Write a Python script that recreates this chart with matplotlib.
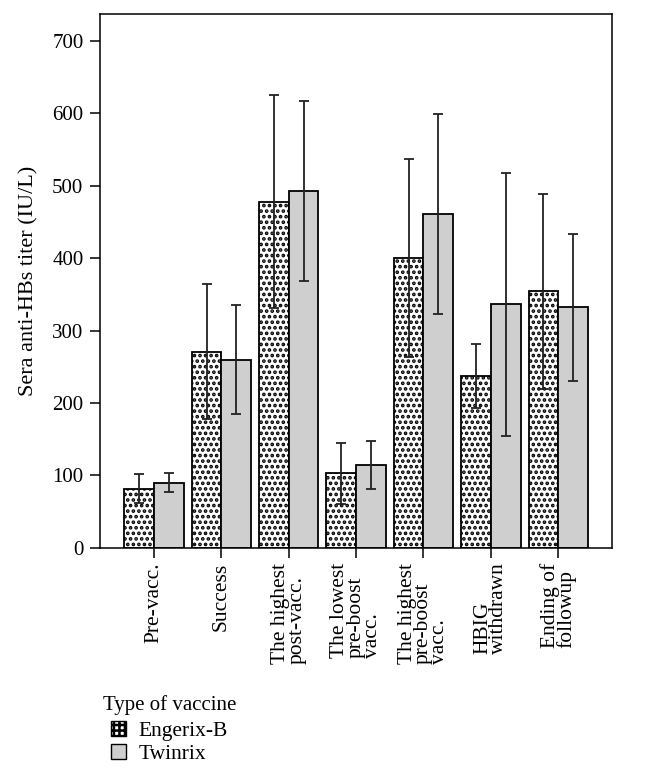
import numpy as np
import matplotlib
matplotlib.use('Agg')
import matplotlib.pyplot as plt
from matplotlib.patches import Patch

plt.rcParams['font.family'] = ['Liberation Serif', 'DejaVu Serif']
plt.rcParams['hatch.linewidth'] = 1.8

# data
stages = ['Pre-vacc.', 'Success', 'The highest\npost-vacc.', 'The lowest\npre-boost\nvacc.',
          'The highest\npre-boost\nvacc.', 'HBIG\nwithdrawn', 'Ending of\nfollowup']
engerix_mean = [82, 271, 478, 103, 400, 237, 354]
engerix_err = [20, 93, 147, 42, 137, 44, 134]
twinrix_mean = [90, 260, 493, 115, 461, 336, 332]
twinrix_err = [13, 75, 124, 33, 138, 182, 101]
yticks = [0, 100, 200, 300, 400, 500, 600, 700]

fig = plt.figure(figsize=(6.54, 7.75), dpi=100)
ax = fig.add_axes([0.153, 0.293, 0.783, 0.689])

x = np.arange(len(stages))
w = 0.44

ax.bar(x - w/2, engerix_mean, w, color='white', edgecolor='black', hatch='...', linewidth=1.3)
ax.bar(x + w/2, twinrix_mean, w, color='#cfcfcf', edgecolor='black', linewidth=1.3)
ax.errorbar(x - w/2, engerix_mean, yerr=engerix_err, fmt='none', ecolor='#222222',
            elinewidth=1.3, capsize=3.5, capthick=1.3)
ax.errorbar(x + w/2, twinrix_mean, yerr=twinrix_err, fmt='none', ecolor='#222222',
            elinewidth=1.3, capsize=3.5, capthick=1.3)

ax.set_xlim(-0.8, len(stages) - 0.2)
ax.set_ylim(0, 737)
ax.set_yticks(yticks)
ax.set_xticks(x)
ax.set_xticklabels(stages, rotation=90, multialignment='left', linespacing=0.8, fontsize=15.5)
ax.tick_params(axis='y', labelsize=15, length=7, width=1.1, direction='out', pad=5)
ax.tick_params(axis='x', length=7, width=1.1, direction='out')
for s in ax.spines.values():
    s.set_linewidth(1.1)
ax.set_ylabel('Sera anti-HBs titer (IU/L)', fontsize=16, labelpad=10)

fig.text(0.157, 0.090, 'Type of vaccine', fontsize=15, ha='left', va='center')
handles = [Patch(facecolor='white', edgecolor='black', hatch='+++', label='Engerix-B'),
           Patch(facecolor='#cfcfcf', edgecolor='black', label='Twinrix')]
fig.legend(handles=handles, loc='upper left', bbox_to_anchor=(0.146, 0.089),
           frameon=False, fontsize=15.5, handlelength=0.7, handleheight=0.7,
           handletextpad=0.6, labelspacing=0.12, borderpad=0.2)

fig.savefig('out.png', dpi=100)
